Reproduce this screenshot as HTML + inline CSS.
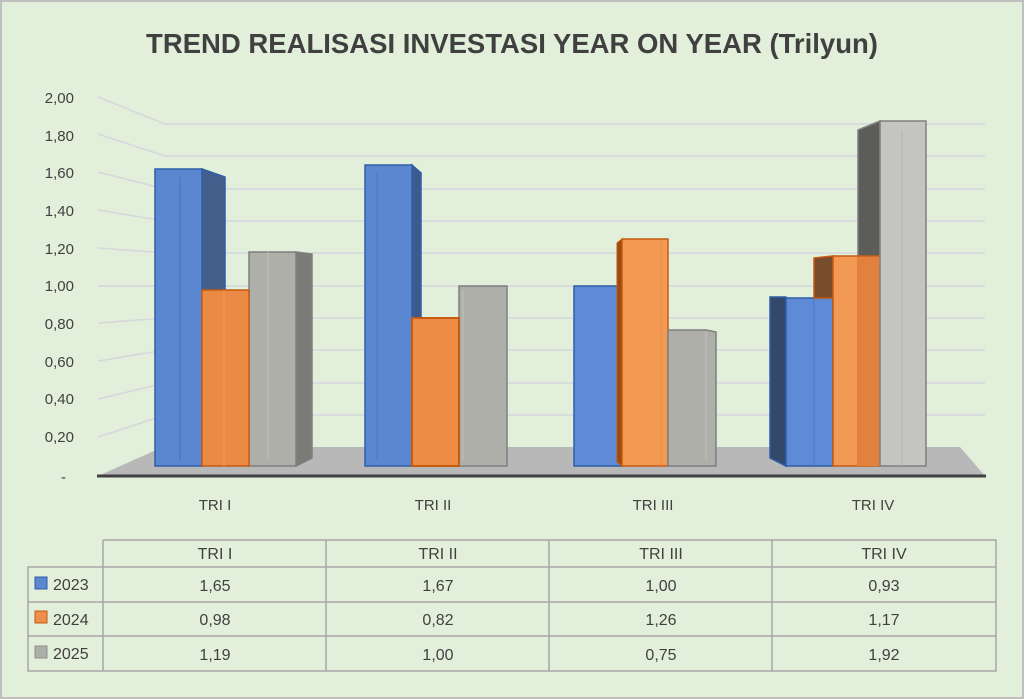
<!DOCTYPE html>
<html><head><meta charset="utf-8"><style>
html,body{margin:0;padding:0;background:#e2efda;}
svg{display:block;font-family:"Liberation Sans",Carlito,sans-serif;}
</style></head><body>
<svg width="1024" height="699" viewBox="0 0 1024 699" xmlns="http://www.w3.org/2000/svg">
<rect x="1" y="1" width="1022" height="697" fill="#e2efda" stroke="#bfbfbf" stroke-width="2"/>
<text x="512" y="53" text-anchor="middle" font-size="27.5" font-weight="bold" fill="#404040">TREND REALISASI INVESTASI YEAR ON YEAR (Trilyun)</text>

<!-- gridlines -->
<g stroke="#d6d6dc" stroke-width="1.5" fill="none">
<path d="M98 97 L165 124 H985"/>
<path d="M98 134 L165 156 H985"/>
<path d="M98 172 L165 189 H985"/>
<path d="M98 210 L165 221 H985"/>
<path d="M98 248 L165 253 H985"/>
<path d="M98 286 L165 286 H985"/>
<path d="M98 323 L165 318 H985"/>
<path d="M98 361 L165 350 H985"/>
<path d="M98 399 L165 383 H985"/>
<path d="M98 437 L165 415 H985"/>
</g>
<!-- floor -->
<polygon points="98,476 163,447 960,447 985,476" fill="#b8b8b8"/>
<line x1="97" y1="476" x2="986" y2="476" stroke="#404040" stroke-width="3"/>

<g font-size="15" fill="#404040" text-anchor="end">
<text x="74" y="103">2,00</text>
<text x="74" y="141">1,80</text>
<text x="74" y="178">1,60</text>
<text x="74" y="216">1,40</text>
<text x="74" y="254">1,20</text>
<text x="74" y="291">1,00</text>
<text x="74" y="329">0,80</text>
<text x="74" y="367">0,60</text>
<text x="74" y="404">0,40</text>
<text x="74" y="442">0,20</text>
<text x="66" y="482">-</text>
</g>

<!-- TRI I -->
<polygon points="202,169 225,177 225,460 202,466" fill="#435f8c" stroke="#2f5ea8" stroke-width="1.5"/>
<rect x="155" y="169" width="47" height="297" fill="#5b87d0" stroke="#2f5ea8" stroke-width="1.5"/>
<line x1="180" y1="177" x2="180" y2="460" stroke="#3f6fc0" stroke-width="1"/>
<polygon points="296,252 312,254 312,458 296,466" fill="#7a7a76" stroke="#7f7f7f" stroke-width="1.5"/>
<rect x="249" y="252" width="47" height="214" fill="#afafaa" stroke="#7f7f7f" stroke-width="1.5"/>
<line x1="268" y1="252" x2="268" y2="460" stroke="#c0c0bb" stroke-width="1"/>
<rect x="202" y="290" width="47" height="176" fill="#ea8a45" stroke="#c55a11" stroke-width="1.5"/>
<line x1="224" y1="290" x2="224" y2="466" stroke="#f29a58" stroke-width="1"/>

<!-- TRI II -->
<polygon points="412,165 421,173 421,460 412,466" fill="#3d5a8a" stroke="#2f5ea8" stroke-width="1.5"/>
<rect x="365" y="165" width="47" height="301" fill="#5b87d0" stroke="#2f5ea8" stroke-width="1.5"/>
<line x1="377" y1="172" x2="377" y2="460" stroke="#4a78c6" stroke-width="1"/>
<rect x="459" y="286" width="48" height="180" fill="#afafaa" stroke="#7f7f7f" stroke-width="1.5"/>
<line x1="463" y1="290" x2="463" y2="460" stroke="#c0c0bb" stroke-width="1"/>
<rect x="412" y="318" width="47" height="148" fill="#ee8c46" stroke="#c55a11" stroke-width="2"/>

<!-- TRI III -->
<rect x="574" y="286" width="48" height="180" fill="#5f8ad6" stroke="#2f5ea8" stroke-width="1.5"/>
<polygon points="617,243 622,239 622,466 617,462" fill="#9b4a10" stroke="#c55a11" stroke-width="1"/>
<rect x="622" y="239" width="46" height="227" fill="#f39a52" stroke="#c55a11" stroke-width="1.5"/>
<line x1="661" y1="240" x2="661" y2="466" stroke="#e9894a" stroke-width="1"/>
<polygon points="668,330 706,330 716,332 716,466 668,466" fill="#afafaa" stroke="#7f7f7f" stroke-width="1.5"/>
<line x1="706" y1="332" x2="706" y2="460" stroke="#c0c0bb" stroke-width="1"/>

<!-- TRI IV -->
<polygon points="770,297 786,297 786,466 770,458" fill="#34486a" stroke="#2f5ea8" stroke-width="1.5"/>
<rect x="786" y="298" width="47" height="168" fill="#5f8ad6" stroke="#2f5ea8" stroke-width="1.5"/>
<line x1="814" y1="298" x2="814" y2="466" stroke="#4d74b8" stroke-width="1"/>
<polygon points="814,258 833,256 833,298 814,298" fill="#774d2c" stroke="#c55a11" stroke-width="1.5"/>
<polygon points="858,130 880,121 880,256 858,256" fill="#5c5d59" stroke="#7f7f7f" stroke-width="1.5"/>
<rect x="833" y="256" width="47" height="210" fill="#f29a55" stroke="#c55a11" stroke-width="1.5"/>
<rect x="857" y="257" width="23" height="209" fill="#e2813e"/>
<rect x="880" y="121" width="46" height="345" fill="#c4c4c0" stroke="#7f7f7f" stroke-width="1.5"/>
<line x1="902" y1="131" x2="902" y2="466" stroke="#b4b4b0" stroke-width="1"/>

<g font-size="15" fill="#404040" text-anchor="middle">
<text x="215" y="510">TRI I</text>
<text x="433" y="510">TRI II</text>
<text x="653" y="510">TRI III</text>
<text x="873" y="510">TRI IV</text>
</g>

<!-- table -->
<g stroke="#a6a6a6" stroke-width="1.5" fill="none">
<path d="M103 540 H996 V671 H28 V567 H996"/>
<path d="M28 602 H996 M28 636 H996"/>
<path d="M103 540 V671 M326 540 V671 M549 540 V671 M772 540 V671"/>
</g>
<rect x="35" y="577" width="12" height="12" fill="#5b87d0" stroke="#2f5ea8"/>
<rect x="35" y="611" width="12" height="12" fill="#ef8f4c" stroke="#c55a11"/>
<rect x="35" y="646" width="12" height="12" fill="#afafaa" stroke="#8f8f8f"/>
<g font-size="16" fill="#404040">
<text x="53" y="590">2023</text>
<text x="53" y="625">2024</text>
<text x="53" y="659">2025</text>
</g>
<g font-size="16" fill="#404040" text-anchor="middle">
<text x="215" y="559">TRI I</text><text x="438" y="559">TRI II</text><text x="661" y="559">TRI III</text><text x="884" y="559">TRI IV</text>
<text x="215" y="591">1,65</text><text x="438" y="591">1,67</text><text x="661" y="591">1,00</text><text x="884" y="591">0,93</text>
<text x="215" y="625">0,98</text><text x="438" y="625">0,82</text><text x="661" y="625">1,26</text><text x="884" y="625">1,17</text>
<text x="215" y="660">1,19</text><text x="438" y="660">1,00</text><text x="661" y="660">0,75</text><text x="884" y="660">1,92</text>
</g>
</svg>
</body></html>
